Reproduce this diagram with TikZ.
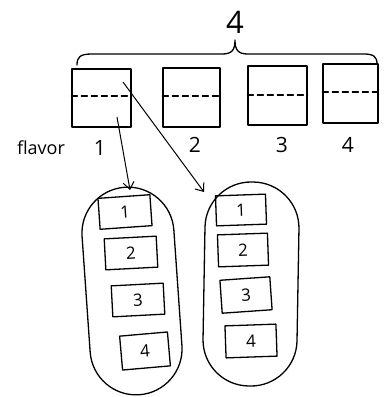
\documentclass[tikz,border=0pt]{standalone}
\usepackage{fontspec}
\setmainfont{Open Sans}
\usetikzlibrary{arrows.meta}
\tikzset{
  pen/.style={line width=1.3pt, line cap=round, line join=round},
  slot/.style={pen, draw, rectangle, inner sep=0pt},
  split/.style={pen, dash pattern=on 6pt off 4pt},
  group/.style={pen, draw, rectangle, rounded corners=46pt, inner sep=0pt},
  item/.style={pen, draw, rectangle, inner sep=0pt, minimum width=52pt, minimum height=31pt, font=\fontsize{17}{17}\selectfont},
  lbl/.style={inner sep=0pt, font=\fontsize{21}{21}\selectfont},
  link/.style={line width=1pt, -{Straight Barb[length=7pt, width=11pt, line width=1pt]}},
}
\begin{document}
\begin{tikzpicture}[x=1pt, y=-1pt]
\useasboundingbox (0,0) rectangle (385,397);

% count above the brace
\node[inner sep=0pt, font=\fontsize{31}{31}\selectfont] (total) at (235,22) {4};
\draw[pen] (77,65) .. controls (77,57) and (80,54) .. (92,54) -- (222,54)
  .. controls (232,54) and (235,50) .. (235,40)
  .. controls (235,50) and (238,54) .. (248,54) -- (364,54)
  .. controls (374,54) and (377,57) .. (377,64);

% the four slots
\node[slot, minimum width=59pt, minimum height=58pt] (b1) at (101.5,98) {};
\node[slot, minimum width=57pt, minimum height=59pt] (b2) at (191.5,97.5) {};
\node[slot, minimum width=59pt, minimum height=59pt] (b3) at (277.5,95.5) {};
\node[slot, minimum width=55pt, minimum height=59pt] (b4) at (350.5,93.5) {};
\draw[split] ([yshift=2pt]b1.west) -- ([yshift=2pt]b1.east);
\draw[split] ([yshift=1.5pt]b2.west) -- ([yshift=1.5pt]b2.east);
\draw[split] ([yshift=0.5pt]b3.west) -- ([yshift=0.5pt]b3.east);
\draw[split] ([yshift=1.5pt]b4.west) -- ([yshift=1.5pt]b4.east);

% labels under the slots
\node[inner sep=0pt, font=\fontsize{18}{18}\selectfont] (flav) at (41,148) {flavor};
\node[lbl] (n1) at (100,148) {1};
\node[lbl] (n2) at (195,145) {2};
\node[lbl] (n3) at (282,145) {3};
\node[lbl] (n4) at (348,145) {4};

% the two groups of four
\node[group, minimum width=92pt, minimum height=208pt, rotate=4] (g1) at (132,291) {};
\node[item, rotate=4] (l1) at (125,212) {1};
\node[item, rotate=3] (l2) at (131,253) {2};
\node[item, rotate=3] (l3) at (138,300) {3};
\node[item, rotate=5, minimum width=48pt, minimum height=34pt] (l4) at (145,351) {4};

\node[group, minimum width=94pt, minimum height=204pt, rotate=-1] (g2) at (251,284) {};
\node[item, rotate=2, minimum width=50pt, minimum height=30pt] (r1) at (241,210) {1};
\node[item, rotate=2, minimum width=50pt, minimum height=32pt] (r2) at (243,250) {2};
\node[item, rotate=4, minimum width=50pt, minimum height=33pt] (r3) at (246,295) {3};
\node[item, rotate=2, minimum width=51pt, minimum height=32pt] (r4) at (251,341) {4};

% arrows from slot 1 into the groups
\coordinate (s1) at (117,117);
\coordinate (e1) at (130,190);
\coordinate (s2) at (123,82);
\coordinate (e2) at (204,192);
\draw[link] (s1) -- (e1);
\draw[link] (s2) -- (e2);
\end{tikzpicture}
\end{document}
